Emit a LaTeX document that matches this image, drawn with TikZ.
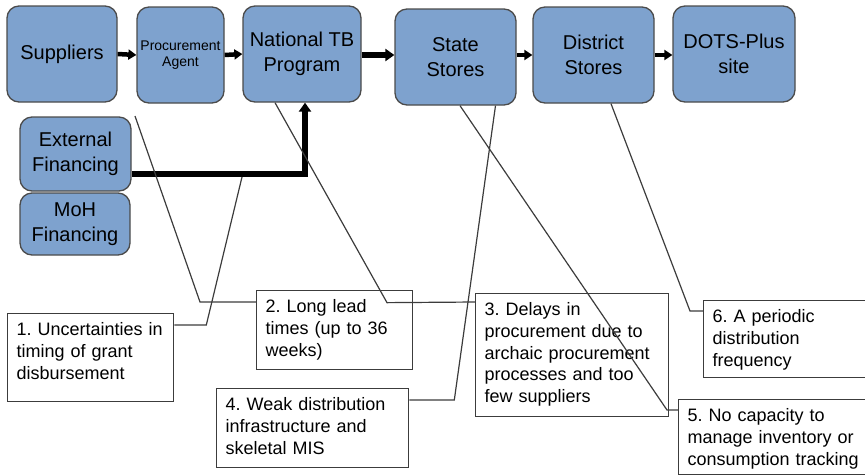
\documentclass[tikz,border=0pt]{standalone}
\usepackage{fontspec}
\setmainfont{Liberation Sans}
\usetikzlibrary{arrows.meta}
\definecolor{boxblue}{RGB}{126,162,206}
\definecolor{boxedge}{RGB}{75,75,75}
\definecolor{leadgray}{RGB}{60,60,60}
\frenchspacing
\begin{document}
\begin{tikzpicture}[x=1pt, y=-1pt,
	stage/.style={draw=boxedge, line width=1.3pt, fill=boxblue, rounded corners=12pt, align=center, minimum height=96pt, inner sep=2pt, font=\fontsize{20}{25}\selectfont},
	callout/.style={draw=leadgray, line width=1.3pt, fill=white, anchor=north west, align=left, inner xsep=9pt, inner ysep=9pt, text height=13pt, font=\fontsize{18}{21.7}\selectfont},
	flow/.style={line width=4.5pt, -{Triangle[length=8pt,width=10pt]}},
	bigflow/.style={line width=6pt, -{Triangle[length=9pt,width=12pt]}},
	lead/.style={draw=leadgray, line width=1.2pt}]
	\useasboundingbox (0,0) rectangle (865,475);
	% supply chain
	\node[stage, minimum width=110pt] (sup) at (62,54) {Suppliers};
	\node[stage, minimum width=87pt, font=\fontsize{14}{16}\selectfont] (agent) at (180.5,55) {Procurement\\Agent};
	\node[stage, minimum width=118pt] (ntp) at (302,54) {National TB\\Program};
	\node[stage, minimum width=121pt] (state) at (455.5,57) {State\\Stores};
	\node[stage, minimum width=121pt] (dist) at (593.5,55) {District\\Stores};
	\node[stage, minimum width=122pt] (dots) at (734,54) {DOTS-Plus\\site};
	\node[stage, minimum width=111pt, minimum height=74pt] (ext) at (75.5,154) {External\\Financing};
	\node[stage, minimum width=110pt, minimum height=62pt] (moh) at (75,224) {MoH\\Financing};
	\draw[flow] (sup.east) -- (agent.west);
	\draw[flow] (agent.east) -- (ntp.west);
	\draw[bigflow] ([yshift=-1pt]ntp.east) -- ([yshift=-1pt]ntp.east -| state.west);
	\draw[flow] (dist.west -| state.east) -- (dist.west);
	\draw[flow] (dist.east) -- (dist.east -| dots.west);
	\draw[bigflow] ([yshift=-20pt]ext.east) -| ([xshift=3pt]ntp.south);
	% problems
	\node[callout, text width=148pt, text depth=57pt] (c1) at (7,313) {1. Uncertainties in\\timing of grant\\disbursement};
	\node[callout, text width=138pt, text depth=48pt] (c2) at (256,290) {2. Long lead\\times (up to 36\\weeks)};
	\node[callout, text width=175pt, text depth=92pt] (c3) at (475,293) {3. Delays in\\procurement due to\\archaic procurement\\processes and too\\few suppliers};
	\node[callout, text width=174pt, text depth=48pt] (c4) at (216,388) {4. Weak distribution\\infrastructure and\\skeletal MIS};
	\node[callout, text width=182pt, text depth=44pt] (c5) at (678,399) {5. No capacity to\\manage inventory or\\consumption tracking};
	\node[callout, text width=152pt, text depth=46pt] (c6) at (703,300) {6. A periodic\\distribution\\frequency};
	\coordinate (fund) at (242,177);
	\coordinate (gap) at (135,116);
	\draw[lead] ([yshift=-12pt]c1.north east) -- ++(32,0) -- (fund);
	\draw[lead] ([yshift=-12pt]c2.north west) -- ++(-56,0) -- (gap);
	\draw[lead] ([xshift=-27pt]ntp.south) -- ++(112,200) -- ([yshift=-9pt]c3.north west);
	\draw[lead] ([yshift=-12pt]c4.north east) -- ++(45,0) -- ([xshift=40pt]state.south);
	\draw[lead] ([xshift=4.5pt]state.south) -- ([xshift=-11pt,yshift=-11pt]c5.north west) -- ([yshift=-11pt]c5.north west);
	\draw[lead] ([xshift=17.5pt]dist.south) -- ([xshift=-13pt,yshift=-11pt]c6.north west) -- ([yshift=-11pt]c6.north west);
\end{tikzpicture}
\end{document}
